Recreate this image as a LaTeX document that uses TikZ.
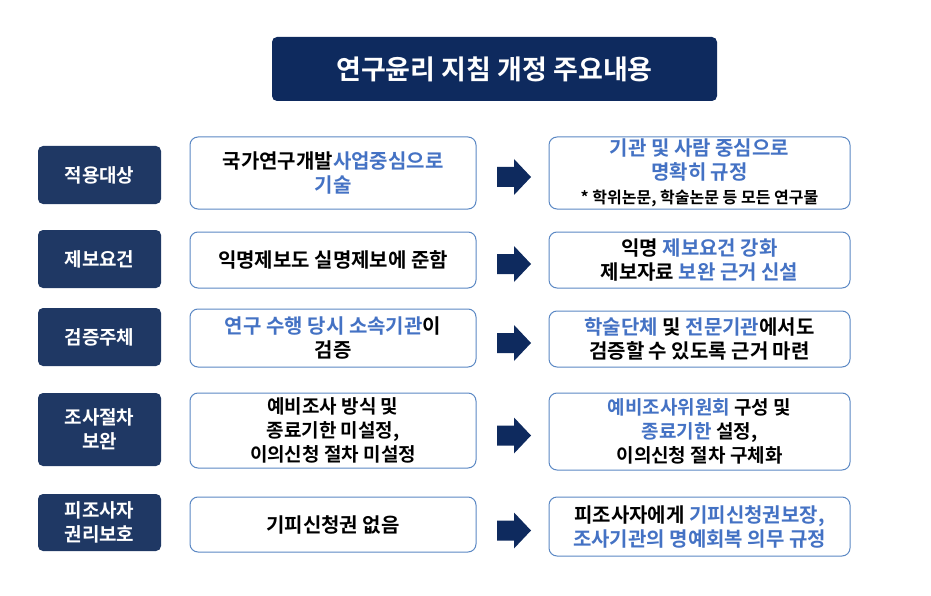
\documentclass[tikz,border=0pt]{standalone}
\usepackage{fontspec}
\setmainfont{Noto Sans CJK KR}[BoldFont={Noto Sans CJK KR Bold}]
\definecolor{navy}{HTML}{0E2A5E}
\definecolor{lab}{HTML}{1F3864}
\definecolor{bl}{HTML}{4472C4}
\definecolor{bd}{HTML}{5B88C4}
\tikzset{
 labbox/.style={fill=lab,rounded corners=5pt,text=white,font=\bfseries\fontsize{19}{24}\selectfont,align=center},
 cbox/.style={draw=bd,line width=1pt,fill=white,rounded corners=8pt,align=center},
 txt/.style={font=\bfseries\fontsize{20}{24}\selectfont,align=center,inner sep=0pt}
}
\newcommand{\bb}[1]{\textcolor{bl}{#1}}
\begin{document}
\begin{tikzpicture}[x=1pt,y=-1pt]
\useasboundingbox (0,0) rectangle (931,596);
\node[fill=navy,rounded corners=5pt,text=white,font=\bfseries\fontsize{27}{30}\selectfont,minimum width=445pt,minimum height=64pt] (t) at (494.5,69) {연구윤리 지침 개정 주요내용};
\foreach \n/\la/\lb/\ma/\mb/\ra/\rb in {1/146/204/137/209/137/209,2/230/288/232/288/232/288,3/308/366/309/367/311/367,4/393/466/393/468/393/470,5/494/551/497/552/497/556}{
 \node[labbox,minimum width=123pt,minimum height={\lb-\la}] (l\n) at (99.5,{(\la+\lb)/2}) {};
 \node[cbox,minimum width=286pt,minimum height={\mb-\ma}] (m\n) at (333,{(\ma+\mb)/2}) {};
 \node[cbox,minimum width=301pt,minimum height={\rb-\ra}] (r\n) at (699.5,{(\ra+\rb)/2}) {};
 \coordinate (a\n) at (497,{(\ra+\rb)/2+4});
 \fill[navy] (a\n) ++(0,-10) -- ++(17,0) -- ++(0,-8) -- ++(17,18) -- ++(-17,18) -- ++(0,-8) -- ++(-17,0) -- cycle;
}
\node[labbox] at (l1) {적용대상};
\node[labbox] at (l2) {제보요건};
\node[labbox] at (l3) {검증주체};
\node[labbox] at (l4) {조사절차\\보완};
\node[labbox] at (l5) {피조사자\\권리보호};
\node[txt] at (m1) {국가연구개발\bb{사업중심으로}\\\bb{기술}};
\node[txt] at (m2) {익명제보도 실명제보에 준함};
\node[txt] at (m3) {\bb{연구 수행 당시 소속기관}이\\검증};
\node[txt,font=\bfseries\fontsize{19}{24}\selectfont] at (m4) {예비조사 방식 및\\종료기한 미설정,\\이의신청 절차 미설정};
\node[txt] at (m5) {기피신청권 없음};
\node[txt,font=\bfseries\fontsize{20}{24}\selectfont] at (r1) {\bb{기관 및 사람 중심으로}\\\bb{명확히 규정}\\{\fontsize{16}{22}\selectfont * 학위논문, 학술논문 등 모든 연구물}};
\node[txt] at (r2) {익명 \bb{제보요건 강화}\\제보자료 \bb{보완 근거 신설}};
\node[txt] at (r3) {\bb{학술단체} 및 \bb{전문기관}에서도\\검증할 수 있도록 근거 마련};
\node[txt,font=\bfseries\fontsize{19}{24}\selectfont] at (r4) {\bb{예비조사위원회} 구성 및\\\bb{종료기한} 설정,\\이의신청 절차 구체화};
\node[txt] at (r5) {피조사자에게 \bb{기피신청권보장,}\\\bb{조사기관의 명예회복 의무 규정}};
\end{tikzpicture}
\end{document}
